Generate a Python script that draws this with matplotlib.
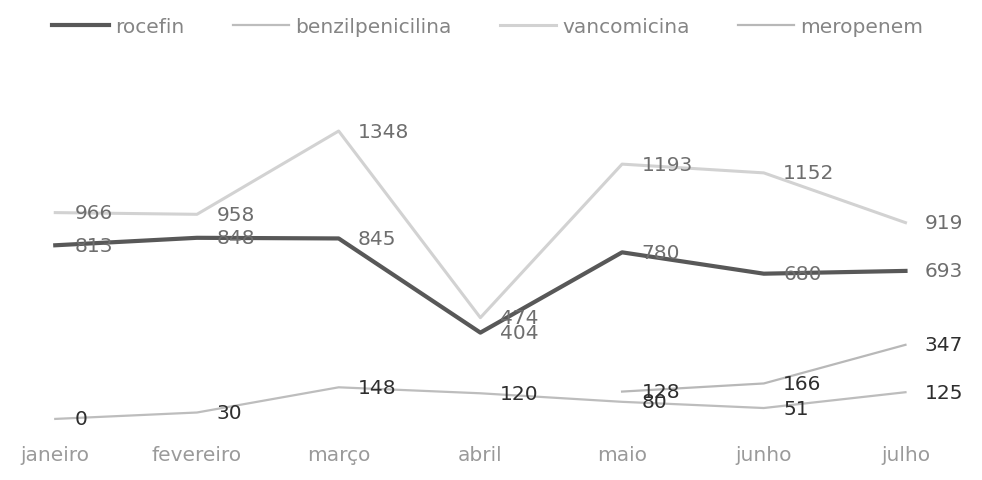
import numpy as np
from matplotlib import pyplot as plt

'''
    Data read from the chart
'''
meses = ['janeiro', 'fevereiro', 'março', 'abril', 'maio', 'junho', 'julho']
rocefin = [813, 848, 845, 404, 780, 680, 693]
benzilpenicilina = [0, 30, 148, 120, 80, 51, 125]
vancomicina = [966, 958, 1348, 474, 1193, 1152, 919]
meropenem = [np.nan, np.nan, np.nan, np.nan, 128, 166, 347]

series_names = ['rocefin', 'benzilpenicilina', 'vancomicina', 'meropenem']
series_values = [rocefin, benzilpenicilina, vancomicina, meropenem]
series_colors = ['#585858', '#bdbdbd', '#d2d2d2', '#b8b8b8']
series_widths = [3.0, 1.6, 2.2, 1.6]
label_colors = ['#6e6e6e', '#2e2e2e', '#6e6e6e', '#2e2e2e']

plt.rcParams['font.family'] = ['DejaVu Sans']

fig = plt.figure(figsize=(9.82, 4.81), dpi=100)
fig.patch.set_facecolor('white')
ax = fig.add_axes([0, 0.127, 1, 0.686])

x = np.arange(len(meses))

# linhas
for name, vals, col, lw in zip(series_names, series_values, series_colors, series_widths):
    ax.plot(x, vals, color=col, linewidth=lw, label=name, clip_on=False)

# rótulos de dados
for vals, col in zip(series_values, label_colors):
    for xi, v in zip(x, vals):
        if np.isnan(v):
            continue
        ax.annotate(str(int(v)), (xi, v), xytext=(14, 0), textcoords='offset points',
                    ha='left', va='center', fontsize=14.5, color=col)

# eixos
ax.set_xlim(-0.39, 6.54)
ax.set_ylim(0, 1545)
ax.set_xticks(x)
ax.set_xticklabels(meses, fontsize=14.5, color='#9a9a9a')
ax.tick_params(axis='x', length=0, pad=19)
ax.set_yticks([])
for s in ax.spines.values():
    s.set_visible(False)

# legenda
fig.legend(loc='upper left', bbox_to_anchor=(0.035, 1.0), ncol=4, frameon=False,
           fontsize=14.5, labelcolor='#858585', handlelength=2.8, handletextpad=0.3,
           columnspacing=2.4)

fig.savefig('out.png', dpi=100, facecolor='white')
plt.close()
